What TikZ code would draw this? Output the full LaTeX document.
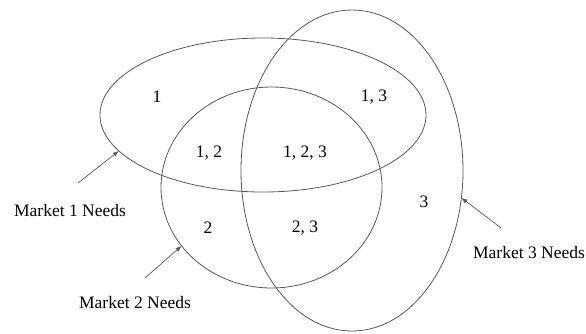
\documentclass[tikz,border=0pt]{standalone}
\usepackage{fontspec}
\setmainfont{Liberation Serif}
\usetikzlibrary{shapes.geometric,arrows.meta}
\tikzset{
  setshape/.style={ellipse, draw=black!65, line width=0.8pt, inner sep=0pt, outer sep=0pt},
  lbl/.style={font=\fontsize{17.5}{20}\selectfont, text=black, inner sep=0pt},
  ptr/.style={draw=black!65, line width=0.7pt, -{Latex[length=6pt,width=4.5pt]}}
}
\begin{document}
\begin{tikzpicture}[x=1pt,y=-1pt]
\useasboundingbox (0,0) rectangle (586,333);
\node[setshape, minimum width=326pt, minimum height=154pt] (e1) at (263,115) {};
\node[setshape, minimum width=221pt, minimum height=201pt] (e2) at (271.5,187.5) {};
\node[setshape, minimum width=222pt, minimum height=321pt] (e3) at (352,170.5) {};
\node[lbl] (r1) at (157,97) {1};
\node[lbl] (r13) at (374,97) {1, 3};
\node[lbl] (r12) at (209,153) {1, 2};
\node[lbl] (r123) at (305,153) {1, 2, 3};
\node[lbl] (r2) at (208,228) {2};
\node[lbl] (r23) at (305,228) {2, 3};
\node[lbl] (r3) at (424,202) {3};
\node[lbl] (m1) at (70,211) {Market 1 Needs};
\node[lbl] (m2) at (135,303) {Market 2 Needs};
\node[lbl] (m3) at (529,253) {Market 3 Needs};
\coordinate (t1) at (78,183);
\coordinate (t2) at (145,278);
\coordinate (t3) at (501,228);
\draw[ptr] (t1) -- (e1.194.6);
\draw[ptr] (t2) -- (e2.213.9);
\draw[ptr] (t3) -- (e3.346.7);
\end{tikzpicture}
\end{document}
